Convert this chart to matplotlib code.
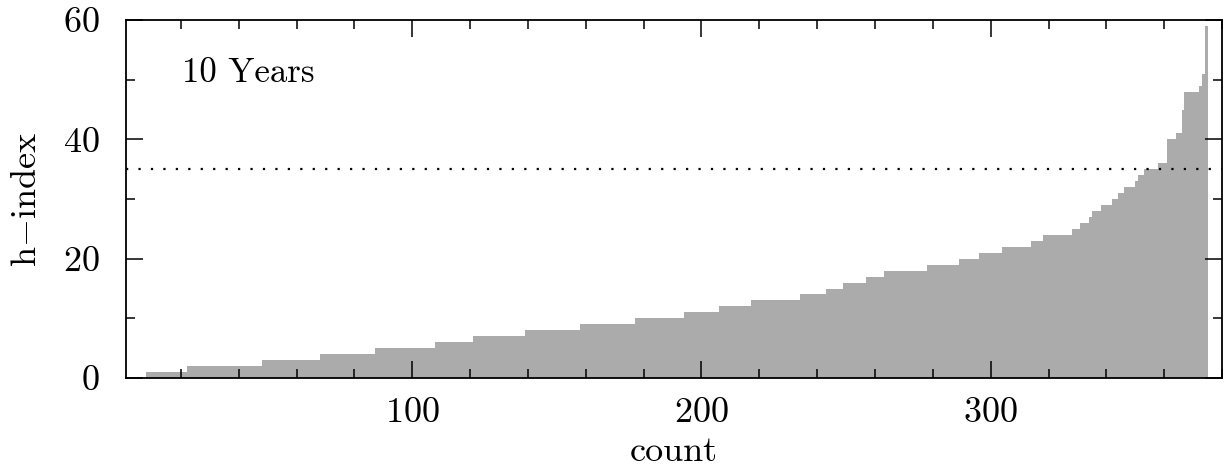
import numpy as np
import matplotlib
matplotlib.use("Agg")
import matplotlib.pyplot as plt
from matplotlib.ticker import MultipleLocator

# h-index levels (sorted) and how many people sit at each level
h_levels = [0, 1, 2, 3, 4, 5, 6, 7, 8, 9, 10, 11, 12, 13, 14, 15, 16, 17, 18,
            19, 20, 21, 22, 23, 24, 25, 26, 27, 28, 29, 30, 31, 32, 33, 34, 35,
            36, 40, 41, 45, 48, 49, 51, 59]
n_people = [7, 14, 26, 20, 19, 21, 13, 18, 19, 19, 17, 12, 11, 17, 9, 6, 8, 6,
            15, 11, 7, 8, 10, 4, 10, 3, 3, 1, 3, 4, 2, 2, 4, 1, 2, 5, 3, 3, 2,
            1, 5, 1, 1, 1]
h_cut = 35
label = "10 Years"

h = np.repeat(h_levels, n_people)
count = np.arange(1, len(h) + 1)

plt.rcParams['font.family'] = ['cmr10', 'DejaVu Serif']
plt.rcParams['mathtext.fontset'] = 'cm'
plt.rcParams['axes.formatter.use_mathtext'] = True

fig = plt.figure(figsize=(12.24, 4.70), dpi=100)
ax = fig.add_axes([0.1029, 0.1957, 0.8955, 0.7617])

ax.bar(count, h, width=1, align='edge', color='#ababab', linewidth=0)
ax.axhline(h_cut, color='black', linestyle=(0, (1, 4.6)), linewidth=1.6)

ax.text(20.5, 49.6, label, fontsize=25, va='baseline')

ax.set_xlim(1, 380)
ax.set_ylim(0, 60)
ax.xaxis.set_major_locator(MultipleLocator(100))
ax.xaxis.set_minor_locator(MultipleLocator(20))
ax.yaxis.set_major_locator(MultipleLocator(20))
ax.yaxis.set_minor_locator(MultipleLocator(10))

ax.tick_params(which='both', direction='in', top=True, right=True, width=1.1,
               labelsize=26)
ax.tick_params(which='major', length=12.5)
ax.tick_params(which='minor', length=6.5)
ax.tick_params(axis='x', pad=14)
ax.tick_params(axis='y', pad=19)
for sp in ax.spines.values():
    sp.set_linewidth(1.3)

ax.set_xlabel('count', fontsize=26, labelpad=5)
ax.set_ylabel(r'h$-$index', fontsize=26, labelpad=14)

fig.savefig('out.png', dpi=100)
